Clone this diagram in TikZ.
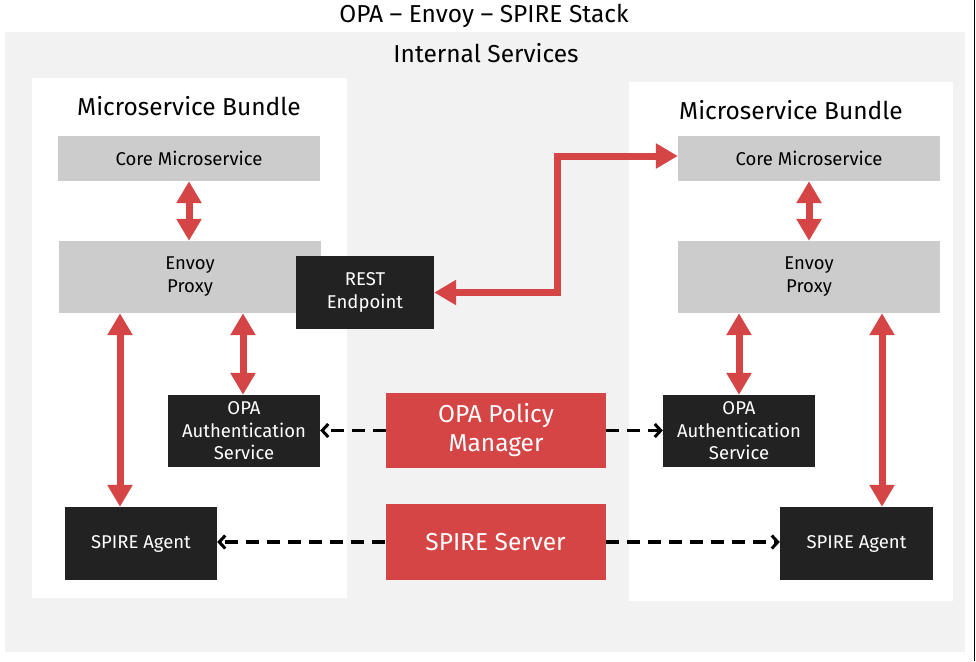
\documentclass[tikz,border=0pt]{standalone}
\usepackage{fontspec}
\setmainfont{Fira Sans}
\usepackage{xcolor}
\definecolor{stred}{RGB}{214,69,69}
\definecolor{stgray}{RGB}{204,204,204}
\definecolor{stdark}{RGB}{34,34,34}
\definecolor{stlight}{RGB}{242,242,242}
\usepackage{tikz}
\usetikzlibrary{arrows.meta,positioning,calc}

\tikzset{
  heading/.style={font=\fontsize{24.5}{29}\selectfont, text=black},
  graybox/.style={fill=stgray, minimum width=262pt, align=center, text=black, inner sep=0pt, font=\fontsize{18.5}{23}\selectfont},
  darkbox/.style={fill=stdark, align=center, text=white, inner sep=0pt, font=\fontsize{18.5}{22.5}\selectfont},
  redbox/.style={fill=stred, align=center, text=white, inner sep=0pt, minimum width=220pt, font=\fontsize{24.5}{29}\selectfont},
  redlink/.style={draw=stred, line width=7pt, {Triangle[length=22pt,width=24pt]}-{Triangle[length=22pt,width=24pt]}},
  dashlink/.style={draw=black, line width=3.2pt, dash pattern=on 13pt off 8pt, -{Straight Barb[length=6pt,width=13pt,line width=3pt]}}
}

\begin{document}
\begin{tikzpicture}[x=1pt, y=-1pt]
  \useasboundingbox (0,0) rectangle (976,661);

  %% Background panels
  \fill[stlight] (5,32) rectangle (965,652);
  \fill[white] (32,78) rectangle (347,598);
  \fill[white] (629,82) rectangle (953,601);
  \draw[black, line width=1.2pt] (974.5,0) -- (974.5,661);

  %% Titles
  \node[heading] (title) at (484,16) {OPA – Envoy – SPIRE Stack};
  \node[heading] (internal) at (486,53) {Internal Services};
  \node[heading] (lbundle) at (189,106) {Microservice Bundle};
  \node[heading] (rbundle) at (791,110) {Microservice Bundle};

  %% Left bundle
  \node[graybox, minimum height=45pt] (lcore) at (189,158.5) {Core Microservice};
  \node[graybox, minimum height=72pt] (lenvoy) at (190,277) {Envoy\\Proxy};
  \node[darkbox, minimum width=152pt, minimum height=72pt] (lauth) at (244,431) {OPA\\Authentication\\Service};
  \node[darkbox, minimum width=152pt, minimum height=73pt] (lagent) at (141,543.5) {SPIRE Agent};
  \node[darkbox, minimum width=138pt, minimum height=73pt] (rest) at (365,292.5) {REST\\Endpoint};

  %% Right bundle
  \node[graybox, minimum height=45pt] (rcore) at (809,158.5) {Core Microservice};
  \node[graybox, minimum height=72pt] (renvoy) at (809,277) {Envoy\\Proxy};
  \node[darkbox, minimum width=152pt, minimum height=72pt] (rauth) at (739,431) {OPA\\Authentication\\Service};
  \node[darkbox, minimum width=153pt, minimum height=73pt] (ragent) at (856.5,543.5) {SPIRE Agent};

  %% Shared services
  \node[redbox, minimum height=75pt] (opa) at (496,430.5) {OPA Policy\\Manager};
  \node[redbox, minimum height=76pt] (spire) at (495.5,542) {SPIRE Server};

  %% Red links
  \draw[redlink] (lcore.south) -- (lcore.south |- lenvoy.north);
  \draw[redlink] ([xshift=-1pt]lauth.north |- lenvoy.south) -- ([xshift=-1pt]lauth.north);
  \draw[redlink] ([xshift=-21pt]lagent.north |- lenvoy.south) -- ([xshift=-21pt]lagent.north);
  \draw[redlink] (rcore.south) -- (rcore.south |- renvoy.north);
  \draw[redlink] (rauth.north |- renvoy.south) -- (rauth.north);
  \draw[redlink] ([xshift=25.5pt]ragent.north |- renvoy.south) -- ([xshift=25.5pt]ragent.north);
  \draw[redlink] (rest.east) -- ++(123,0) |- ([yshift=2.5pt]rcore.west);

  %% Dashed links
  \draw[dashlink] (opa.west) -- (opa.west -| lauth.east);
  \draw[dashlink] (opa.east) -- (opa.east -| rauth.west);
  \draw[dashlink] (spire.west) -- (spire.west -| lagent.east);
  \draw[dashlink] (spire.east) -- (spire.east -| ragent.west);
\end{tikzpicture}
\end{document}
